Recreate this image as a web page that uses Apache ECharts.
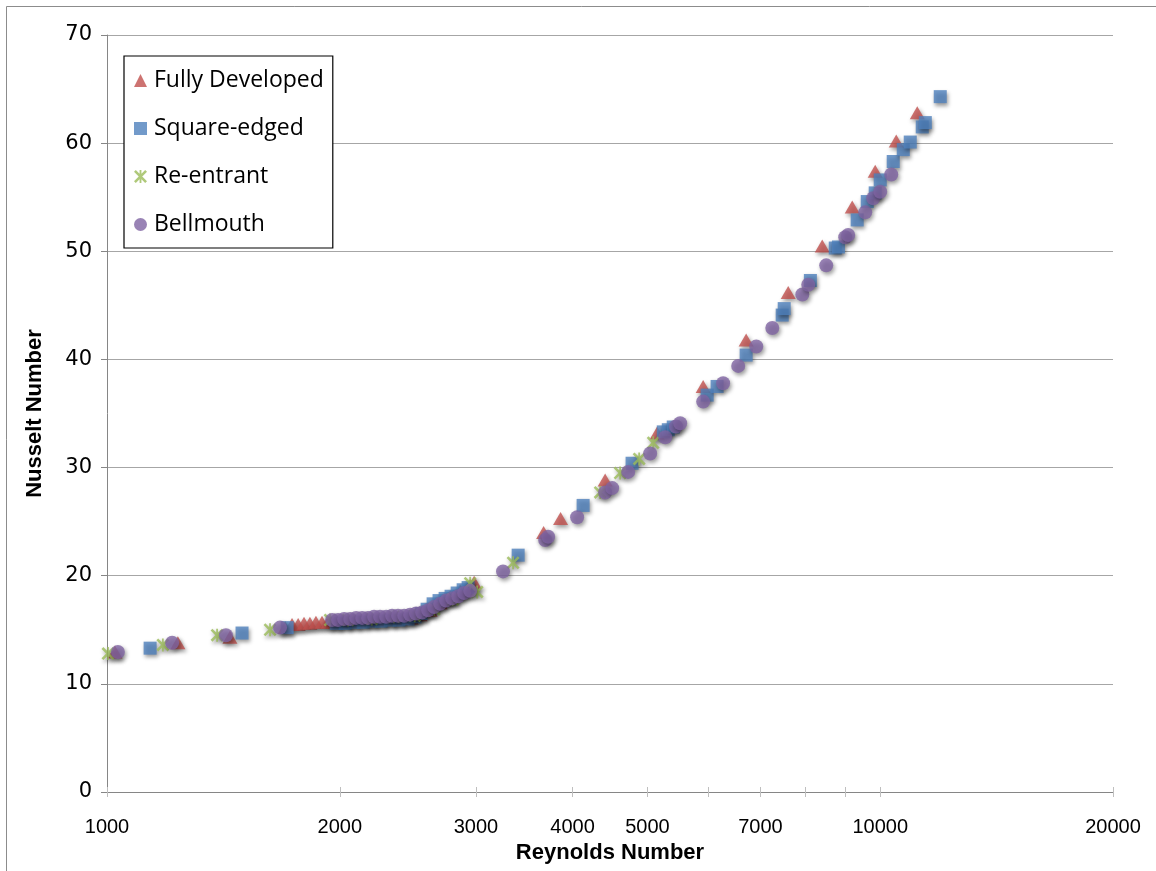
<!DOCTYPE html>
<html>
<head>
<meta charset="utf-8">
<script src="https://cdn.jsdelivr.net/npm/echarts@6/dist/echarts.min.js"></script>
<style>
html,body{margin:0;padding:0;background:#fff;}
#chart{width:1156px;height:871px;}
</style>
</head>
<body>
<div id="chart"></div>
<script>
// ---- Data (Reynolds number, Nusselt number) ----
const fdRe = [1024, 1235, 1442, 1700, 1735, 1767, 1798, 1830, 1863, 1897, 1932, 1967, 2032, 2100, 2170, 2242, 2316, 2393, 2473, 2540, 2617, 2697, 2778, 2862, 2949, 2984, 3670, 3860, 4408, 5146, 5902, 6708, 7603, 8414, 9200, 9851, 10488, 11166];
const fdNu = [12.95, 13.8, 14.3, 15.2, 15.5, 15.5, 15.6, 15.6, 15.7, 15.7, 15.7, 15.7, 15.8, 15.8, 15.9, 15.9, 16.0, 16.0, 16.1, 16.4, 16.8, 17.5, 18.0, 18.6, 19.1, 19.4, 24.0, 25.3, 28.85, 33.2, 37.5, 41.8, 46.2, 50.5, 54.1, 57.4, 60.2, 62.8];

const sqRe = [1137, 1495, 1710, 1979, 2032, 2087, 2144, 2202, 2262, 2323, 2386, 2451, 2502, 2548, 2594, 2641, 2688, 2737, 2786, 2837, 2888, 2931, 3402, 4128, 4776, 5241, 5320, 5399, 5973, 6152, 6708, 7468, 7513, 8122, 8746, 8830, 9337, 9621, 9851, 10000, 10394, 10710, 10935, 11333, 11437, 11957];
const sqNu = [13.3, 14.7, 15.2, 15.6, 15.6, 15.7, 15.7, 15.8, 15.8, 15.9, 15.9, 16.0, 16.2, 16.5, 16.9, 17.4, 17.7, 17.9, 18.1, 18.4, 18.7, 18.9, 21.9, 26.5, 30.4, 33.3, 33.5, 33.75, 36.7, 37.5, 40.4, 44.1, 44.7, 47.3, 50.3, 50.4, 52.9, 54.6, 55.4, 56.6, 58.3, 59.4, 60.1, 61.5, 61.9, 64.3];

const reRe = [1003, 1181, 1388, 1625, 1943, 2050, 2200, 2350, 2500, 2650, 2800, 2949, 3011, 3351, 4343, 4609, 4878, 5086];
const reNu = [12.8, 13.6, 14.5, 15.0, 15.9, 15.9, 16.0, 16.2, 16.3, 16.9, 17.8, 19.3, 18.5, 21.2, 27.7, 29.5, 30.8, 32.3];

const bmRe = [1033, 1214, 1425, 1674, 1955, 1990, 2026, 2063, 2100, 2138, 2176, 2215, 2255, 2296, 2337, 2379, 2423, 2466, 2510, 2556, 2602, 2649, 2697, 2745, 2795, 2846, 2896, 2949, 3252, 3687, 3720, 4055, 4408, 4501, 4720, 5040, 5272, 5442, 5511, 5902, 6263, 6551, 6913, 7251, 7929, 8071, 8514, 9010, 9090, 9563, 9793, 10000, 10333];
const bmNu = [12.95, 13.8, 14.5, 15.2, 15.9, 15.9, 16.0, 16.0, 16.1, 16.1, 16.1, 16.2, 16.2, 16.2, 16.3, 16.3, 16.3, 16.4, 16.5, 16.6, 16.8, 17.1, 17.4, 17.7, 17.9, 18.1, 18.4, 18.6, 20.4, 23.3, 23.6, 25.4, 27.7, 28.1, 29.6, 31.3, 32.8, 33.8, 34.1, 36.1, 37.8, 39.4, 41.2, 42.9, 46.0, 46.9, 48.7, 51.3, 51.5, 53.6, 54.9, 55.5, 57.1];

const seriesNames = ['Fully Developed', 'Square-edged', 'Re-entrant', 'Bellmouth'];
const xTickValues = [1000, 2000, 3000, 4000, 5000, 6000, 7000, 8000, 9000, 10000, 20000];
const xLabelValues = [1000, 2000, 3000, 4000, 5000, 7000, 10000, 20000];

// ---- Chart ----
const pairs = (xs, ys) => xs.map((x, i) => [x, ys[i]]);
const shadow = {shadowColor: 'rgba(0,0,0,0.5)', shadowBlur: 4, shadowOffsetX: 1.5, shadowOffsetY: 2.5};
const asterisk = 'path://M0,1.4 L1.4,0 L10,8.6 L8.6,10 Z M8.6,0 L10,1.4 L1.4,10 L0,8.6 Z M4.3,0 L5.7,0 L5.7,10 L4.3,10 Z';

const chart = echarts.init(document.getElementById('chart'), null, {renderer: 'canvas'});
const axisGray = '#868686';
const tickGray = '#BFBFBF';

chart.setOption({
  backgroundColor: '#ffffff',
  animation: false,
  graphic: [{
    type: 'rect', silent: true, z: -10,
    shape: {x: 6.5, y: 6.5, width: 1170, height: 880},
    style: {fill: 'none', stroke: '#8c8c8c', lineWidth: 1}
  }],
  grid: {left: 107, right: 43, top: 35, bottom: 79, containLabel: false},
  legend: {
    orient: 'vertical', left: 124, top: 56,
    padding: [13, 9, 12, 10], itemGap: 25, itemWidth: 13, itemHeight: 13,
    borderColor: '#000', borderWidth: 1.2, backgroundColor: '#fff',
    textStyle: {fontFamily: 'Open Sans', fontSize: 23, color: '#000', lineHeight: 23, padding: [0, 0, 0, 2]},
    itemStyle: {shadowBlur: 0, shadowOffsetX: 0, shadowOffsetY: 0, shadowColor: 'transparent'},
    data: seriesNames
  },
  xAxis: [{
    type: 'log', logBase: 10, min: 1000, max: 20000,
    name: 'Reynolds Number', nameLocation: 'middle', nameGap: 50,
    nameTextStyle: {fontFamily: 'Liberation Sans', fontWeight: 'bold', fontSize: 22, color: '#000'},
    axisLine: {show: true, lineStyle: {color: axisGray, width: 1}},
    axisTick: {show: true, inside: false, length: 5, customValues: xTickValues, lineStyle: {color: tickGray, width: 1}},
    axisLabel: {show: true, margin: 25, customValues: xLabelValues, fontFamily: 'Liberation Sans', fontSize: 20, color: '#000',
      formatter: v => String(Math.round(v))},
    splitLine: {show: false}, minorTick: {show: false}, minorSplitLine: {show: false}
  }, {
    type: 'log', logBase: 10, min: 1000, max: 20000, position: 'bottom',
    axisLine: {show: false},
    axisTick: {show: true, inside: true, length: 5, customValues: xTickValues, lineStyle: {color: tickGray, width: 1}},
    axisLabel: {show: false},
    splitLine: {show: false}
  }],
  yAxis: {
    type: 'value', min: 0, max: 70, interval: 10,
    name: 'Nusselt Number', nameLocation: 'middle', nameGap: 61,
    nameTextStyle: {fontFamily: 'Liberation Sans', fontWeight: 'bold', fontSize: 22, color: '#000'},
    axisLine: {show: true, lineStyle: {color: axisGray, width: 1}},
    axisTick: {show: true, inside: false, length: 6, lineStyle: {color: axisGray, width: 1}},
    axisLabel: {margin: 15, fontFamily: 'DejaVu Sans', fontSize: 21, color: '#000'},
    splitLine: {show: true, lineStyle: {color: '#A6A6A6', width: 1}}
  },
  series: [
    {name: seriesNames[0], type: 'scatter', symbol: 'triangle', symbolSize: [15, 13],
     itemStyle: Object.assign({color: '#C0504D'}, shadow), data: pairs(fdRe, fdNu)},
    {name: seriesNames[1], type: 'scatter', symbol: 'rect', symbolSize: 13,
     itemStyle: Object.assign({color: '#4F81BD'}, shadow), data: pairs(sqRe, sqNu)},
    {name: seriesNames[2], type: 'scatter', symbol: asterisk, symbolSize: 13,
     itemStyle: Object.assign({color: '#9BBB59'}, shadow), data: pairs(reRe, reNu)},
    {name: seriesNames[3], type: 'scatter', symbol: 'circle', symbolSize: 14,
     itemStyle: Object.assign({color: '#8064A2'}, shadow), data: pairs(bmRe, bmNu)}
  ]
});
</script>
</body>
</html>
